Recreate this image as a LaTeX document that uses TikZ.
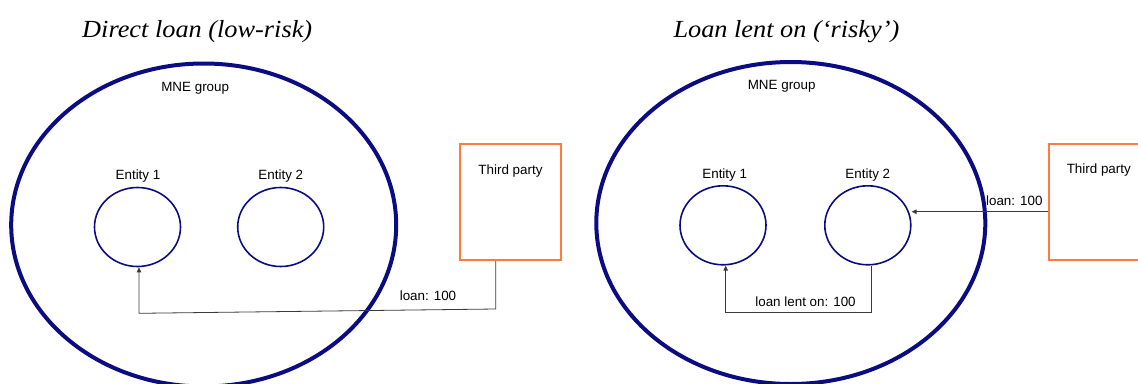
\documentclass[tikz,border=0pt]{standalone}
\usepackage{fontspec}
\setmainfont{Liberation Sans}
\newfontfamily\titlefont[FakeStretch=1.07]{Liberation Serif}
\usetikzlibrary{shapes.geometric,arrows.meta}
\definecolor{navy}{HTML}{0C0C82}
\definecolor{tporange}{HTML}{FF7A3D}
\definecolor{conn}{HTML}{3A3A3A}
\tikzset{
  group/.style={ellipse, draw=navy, line width=4pt, inner sep=0pt},
  entity/.style={ellipse, draw=navy, line width=1.6pt, inner sep=0pt, minimum width=86pt, minimum height=79pt},
  party/.style={rectangle, draw=tporange, line width=2pt, inner sep=0pt},
  lbl/.style={font=\fontsize{13.4}{15}\selectfont, inner sep=0pt, anchor=base},
  ttl/.style={font=\titlefont\itshape\fontsize{24.6}{28}\selectfont, inner sep=0pt, anchor=base west},
  arr/.style={draw=conn, line width=0.8pt, -{Triangle[width=4.5pt,length=5pt]}}
}
\begin{document}
\begin{tikzpicture}[x=1pt,y=-1pt]
\useasboundingbox (0,0) rectangle (1138,383);
\clip (0,0) rectangle (1138,383);
% ---------- left panel ----------
\node[ttl] (tl) at (82,37) {Direct loan (low-risk)};
\node[group, minimum width=385pt, minimum height=323pt] (gL) at (203.7,225) {};
\node[lbl] (gLt) at (195.2,91) {MNE group};
\node[entity] (e1L) at (137.5,227) {};
\node[entity] (e2L) at (280.7,227) {};
\node[lbl] (e1Lt) at (138,179) {Entity 1};
\node[lbl] (e2Lt) at (280.8,179) {Entity 2};
\node[party, minimum width=101pt, minimum height=116pt] (tpL) at (510.7,202) {};
\node[lbl] (tpLt) at (510.5,174) {Third party};
\coordinate (cL1) at ([xshift=-15pt]tpL.south);
\coordinate (cL2) at ([yshift=-48pt]cL1);
\coordinate (cL3) at ([xshift=1.5pt,yshift=-46pt]e1L.south);
\draw[arr] (cL1) -- (cL2) -- (cL3) -- ([xshift=1.5pt]e1L.south);
\node[lbl] (lL) at (428,300) {loan: 100};
% ---------- right panel ----------
\node[ttl] (tr) at (673.3,37) {Loan lent on (‘risky’)};
\node[group, minimum width=389pt, minimum height=322pt] (gR) at (790.8,223) {};
\node[lbl] (gRt) at (781.7,89.3) {MNE group};
\node[entity] (e1R) at (723,225.3) {};
\node[entity] (e2R) at (867.8,225.3) {};
\node[lbl] (e1Rt) at (724.7,178.3) {Entity 1};
\node[lbl] (e2Rt) at (867.8,178.3) {Entity 2};
\node[party, minimum width=101pt, minimum height=116pt, anchor=north west] (tpR) at (1048.3,142.7) {};
\node[lbl] (tpRt) at (1098.8,173.3) {Third party};
\coordinate (cR1) at ([yshift=-10pt]tpR.west);
\draw[arr] (cR1) -- (cR1 -| e2R.east);
\node[lbl] (lR) at (1014.3,205.7) {loan: 100};
\coordinate (cR2) at ([xshift=4pt]e2R.south);
\draw[arr] (cR2) -- ++(0,47) -| ([xshift=2.7pt]e1R.south);
\node[lbl] (lR2) at (805.5,306) {loan lent on: 100};
\end{tikzpicture}
\end{document}
